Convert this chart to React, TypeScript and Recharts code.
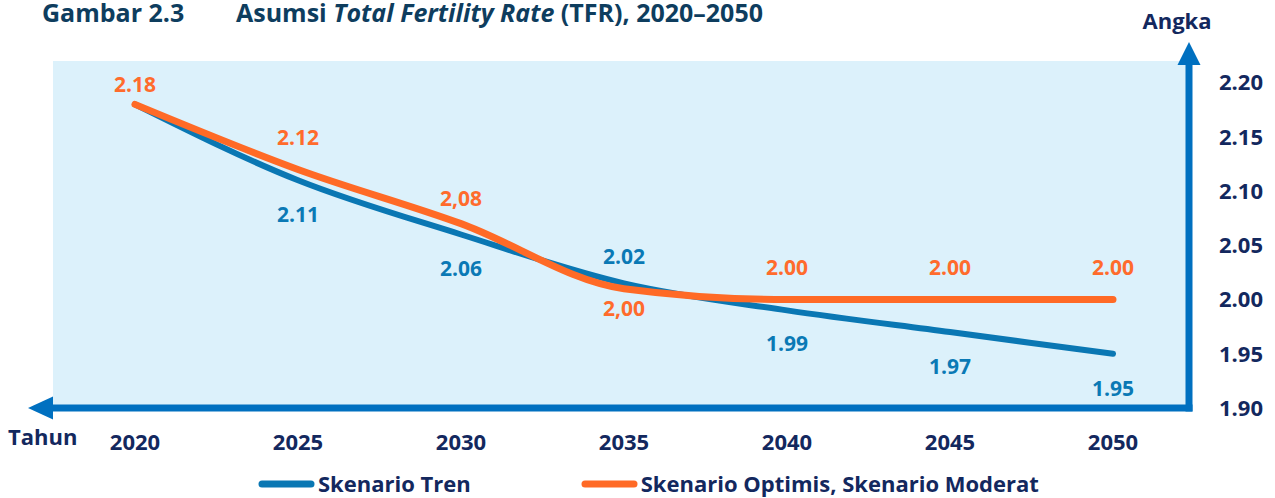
import { LineChart, Line, XAxis, YAxis, CartesianGrid, LabelList, Legend } from 'recharts'

const years = ['2020', '2025', '2030', '2035', '2040', '2045', '2050']
const trenValues = [2.18, 2.11, 2.06, 2.015, 1.99, 1.97, 1.95]
const optimisValues = [2.18, 2.12, 2.07, 2.01, 2.0, 2.0, 2.0]
const trenLabels = ['', '2.11', '2.06', '2.02', '1.99', '1.97', '1.95']
const optimisLabels = ['2.18', '2.12', '2,08', '2,00', '2.00', '2.00', '2.00']
const yTicks = [1.9, 1.95, 2.0, 2.05, 2.1, 2.15, 2.2]

// label baseline offsets from the point (px), above < 0 < below
const trenLabelDy = [0, 42, 41, -19, 41, 42, 42]
const optimisLabelDy = [-12, -24, -18, 27, -25, -25, -25]
const legendOrder = ['tren', 'optimis']

const BLUE = '#0a77b3'
const ORANGE = '#ff6a26'
const AXIS = '#0070c0'
const NAVY = '#13285e'
const FONT = '"Open Sans", Lato, sans-serif'

const rows = years.map((year, i) => ({
  year,
  tren: trenValues[i],
  optimis: optimisValues[i],
}))

function makeLabel(texts: string[], dys: number[], color: string) {
  return (props: any) => {
    const { x, y, index } = props
    const text = texts[index]
    if (!text) return null
    return (
      <text
        x={x}
        y={y + dys[index]}
        textAnchor="middle"
        fill={color}
        fontSize={21}
        fontWeight={700}
        fontFamily={FONT}
      >
        {text}
      </text>
    )
  }
}

function XArrow(props: any) {
  const vb = props.viewBox
  if (!vb) return null
  const { x, y } = vb
  return (
    <g>
      <polygon points={`${x - 25},${y} ${x},${y - 11.5} ${x},${y + 11.5}`} fill={AXIS} />
      <text x={x - 45} y={y + 37} fill={NAVY} fontSize={22} fontWeight={700} fontFamily={FONT}>
        Tahun
      </text>
    </g>
  )
}

function YArrow(props: any) {
  const vb = props.viewBox
  if (!vb) return null
  const { x, y } = vb
  return (
    <g>
      <polygon points={`${x},${y - 19} ${x - 11.5},${y + 4} ${x + 11.5},${y + 4}`} fill={AXIS} />
      <text x={x - 12} y={y - 32} textAnchor="middle" fill={NAVY} fontSize={22} fontWeight={700} fontFamily={FONT}>
        Angka
      </text>
    </g>
  )
}

function renderLegend(props: any) {
  const payload = [...(props.payload ?? [])].sort(
    (a: any, b: any) => legendOrder.indexOf(a.dataKey) - legendOrder.indexOf(b.dataKey)
  )
  return (
    <div style={{ display: 'flex', alignItems: 'center' }}>
      {payload.map((entry: any, i: number) => (
        <div key={entry.value} style={{ display: 'flex', alignItems: 'center', marginRight: i === 0 ? 110 : 0 }}>
          <svg width={57} height={8}>
            <line x1={4} y1={4} x2={53} y2={4} stroke={entry.color} strokeWidth={7} strokeLinecap="round" />
          </svg>
          <span
            style={{
              marginLeft: 3,
              color: NAVY,
              fontSize: 22,
              fontWeight: 700,
              fontFamily: FONT,
              lineHeight: '23px',
              whiteSpace: 'nowrap',
            }}
          >
            {entry.value}
          </span>
        </div>
      ))}
    </div>
  )
}

const titleStyle = {
  position: 'absolute' as const,
  top: 0,
  fontFamily: FONT,
  fontWeight: 700,
  fontSize: 25,
  lineHeight: '25px',
  color: '#0e3d5e',
  whiteSpace: 'nowrap' as const,
}

export default function App() {
  return (
    <div style={{ position: 'absolute', left: 0, top: 0, width: 1275, height: 498, background: '#fff' }}>
      <div style={{ ...titleStyle, left: 42 }}>Gambar 2.3</div>
      <div style={{ ...titleStyle, left: 236 }}>
        Asumsi <i>Total Fertility Rate</i> (TFR), 2020–2050
      </div>
      <LineChart
        width={1275}
        height={498}
        data={rows}
        margin={{ top: 61, right: 6, bottom: 60, left: 53 }}
        style={{ fontFamily: FONT }}
      >
        <CartesianGrid horizontal={false} vertical={false} fill="#dcf1fb" stroke="none" />
        <XAxis
          dataKey="year"
          scale="point"
          padding={{ left: 82, right: 76 }}
          axisLine={{ stroke: AXIS, strokeWidth: 7, strokeLinecap: 'square' }}
          tickLine={false}
          tickSize={0}
          tickMargin={26}
          tick={{ fill: NAVY, fontSize: 22, fontWeight: 700, fontFamily: FONT }}
          interval={0}
          label={<XArrow />}
        />
        <YAxis
          orientation="right"
          type="number"
          domain={[1.9, 2.22]}
          ticks={yTicks}
          interval={0}
          width={80}
          axisLine={{ stroke: AXIS, strokeWidth: 7, strokeLinecap: 'square' }}
          tickLine={false}
          tickSize={0}
          tickMargin={30}
          tickFormatter={(v: number) => v.toFixed(2)}
          tick={{ fill: NAVY, fontSize: 22, fontWeight: 700, fontFamily: FONT }}
          label={<YArrow />}
        />
        <Legend
          layout="horizontal"
          verticalAlign="middle"
          align="center"
          content={renderLegend}
          wrapperStyle={{ left: 258, top: 472, width: 900 }}
        />
        <Line
          name="Skenario Tren"
          type="monotone"
          dataKey="tren"
          stroke={BLUE}
          strokeWidth={6}
          strokeLinecap="round"
          dot={false}
          activeDot={false}
          isAnimationActive={false}
        >
          <LabelList dataKey="tren" content={makeLabel(trenLabels, trenLabelDy, '#0a79b5')} />
        </Line>
        <Line
          name="Skenario Optimis, Skenario Moderat"
          type="monotone"
          dataKey="optimis"
          stroke={ORANGE}
          strokeWidth={7}
          strokeLinecap="round"
          dot={false}
          activeDot={false}
          isAnimationActive={false}
        >
          <LabelList dataKey="optimis" content={makeLabel(optimisLabels, optimisLabelDy, '#ff6b2c')} />
        </Line>
      </LineChart>
    </div>
  )
}
